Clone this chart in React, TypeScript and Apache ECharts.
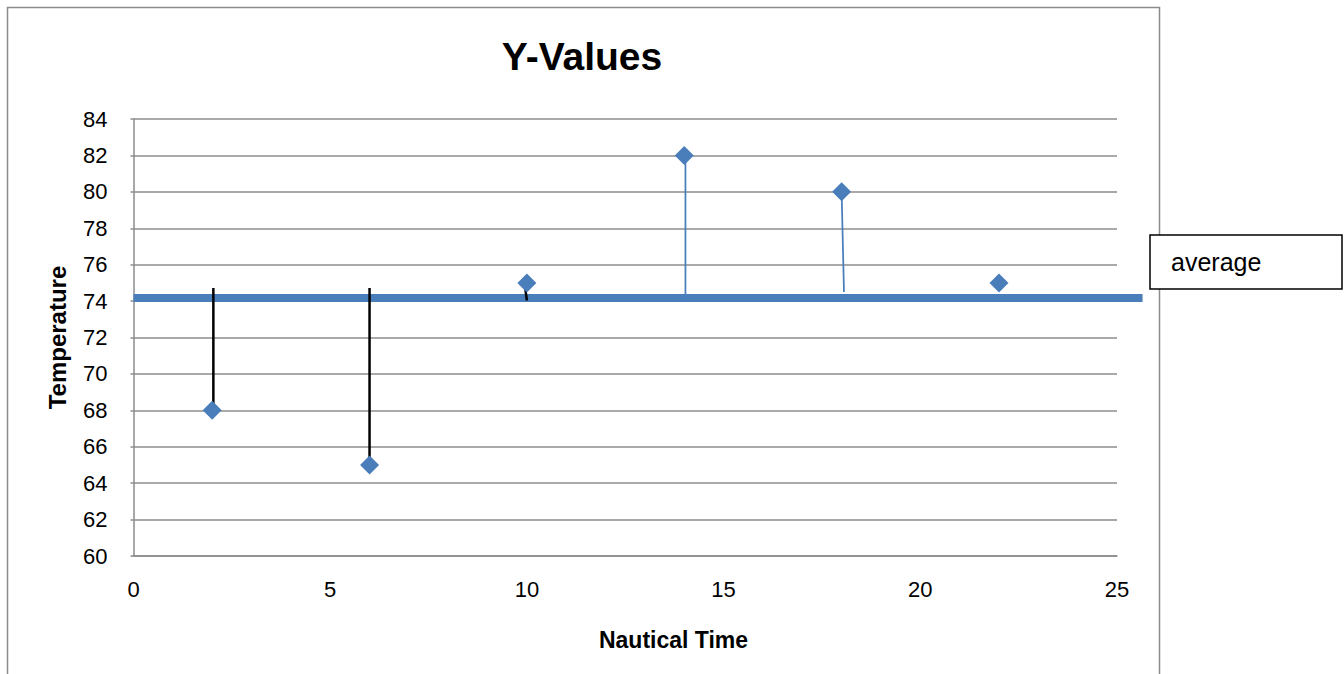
import React, { useEffect, useRef } from "react";
import * as echarts from "echarts";

// Observations: nautical time vs. temperature
const timeValues = [2, 6, 10, 14, 18, 22];
const temperatureValues = [68, 65, 75, 82, 80, 75];

// Hand-drawn deviation lines from the average band to each reading
const blackDeviationLines: [number, number][][] = [
  [[2.03, 74.72], [2.03, 68]],
  [[6, 74.72], [6, 65]],
  [[9.96, 74.67], [10, 74.03]],
];
const blueDeviationLines: [number, number][][] = [
  [[14.03, 82], [14.03, 73.97]],
  [[18, 80], [18.06, 74.5]],
];

// The average band runs slightly past the last x tick
const averageSpan = [0, 25.65];

const xTicks = { min: 0, max: 25, interval: 5 };
const yTicks = { min: 60, max: 84, interval: 2 };

const FONT = "'Liberation Sans', Arial, sans-serif";
const BLUE = "#4a7ebb";
const GRID_GRAY = "#8c8c8c";

// Plot area in pixels
const PLOT_LEFT = 133.5;
const PLOT_TOP = 119;
const PLOT_WIDTH = 983.5;
const PLOT_HEIGHT = 437;

export default function App() {
  const ref = useRef<HTMLDivElement>(null);

  useEffect(() => {
    if (!ref.current) return;
    const chart = echarts.init(ref.current, undefined, { renderer: "svg" });

    const average =
      temperatureValues.reduce((a, b) => a + b, 0) / temperatureValues.length;

    const deviationSeries = [
      ...blackDeviationLines.map((seg) => ({
        type: "line",
        data: seg,
        symbol: "none",
        clip: false,
        z: 4,
        lineStyle: { color: "#000", width: 2.5 },
        silent: true,
      })),
      ...blueDeviationLines.map((seg) => ({
        type: "line",
        data: seg,
        symbol: "none",
        clip: false,
        z: 4,
        lineStyle: { color: BLUE, width: 1.75 },
        silent: true,
      })),
    ];

    // Second, wider coordinate frame with the same scale, so the average band
    // can run past the right end of the plot.
    const pxPerUnit = PLOT_WIDTH / (xTicks.max - xTicks.min);
    const extWidth = (averageSpan[1] - xTicks.min) * pxPerUnit;

    chart.setOption({
      animation: false,
      backgroundColor: "#fff",
      textStyle: { fontFamily: FONT },
      grid: [
        { left: PLOT_LEFT, top: PLOT_TOP, width: PLOT_WIDTH, height: PLOT_HEIGHT, containLabel: false },
        { left: PLOT_LEFT, top: PLOT_TOP, width: extWidth, height: PLOT_HEIGHT, containLabel: false },
      ],
      legend: {
        data: [{ name: "average", icon: "none" }],
        left: 1150,
        top: 235,
        orient: "vertical",
        padding: [14, 0, 14, 16],
        itemWidth: 0,
        itemHeight: 0,
        itemGap: 0,
        borderColor: "#000",
        borderWidth: 1.5,
        borderRadius: 0,
        backgroundColor: "#fff",
        selectedMode: false,
        textStyle: {
          fontFamily: FONT,
          fontSize: 25,
          color: "#000",
          width: 171,
          lineHeight: 26,
        },
      },
      graphic: [
        {
          type: "rect",
          shape: { x: 7.5, y: 7.5, width: 1152, height: 720 },
          style: { fill: "none", stroke: GRID_GRAY, lineWidth: 1.5 },
          silent: true,
          z: -10,
        },
        {
          type: "text",
          x: 582,
          y: 56,
          style: {
            text: "Y-Values",
            fontFamily: FONT,
            fontSize: 39,
            fontWeight: "bold",
            fill: "#000",
            align: "center",
            verticalAlign: "middle",
          },
        },
        {
          type: "text",
          x: 673.5,
          y: 639.5,
          style: {
            text: "Nautical Time",
            fontFamily: FONT,
            fontSize: 23,
            fontWeight: "bold",
            fill: "#000",
            align: "center",
            verticalAlign: "middle",
          },
        },
      ],
      xAxis: [
        {
          type: "value",
          gridIndex: 0,
          min: xTicks.min,
          max: xTicks.max,
          interval: xTicks.interval,
          axisLine: { show: true, lineStyle: { color: GRID_GRAY, width: 1.5 } },
          axisTick: { show: false },
          splitLine: { show: false },
          axisLabel: { fontFamily: FONT, fontSize: 22, color: "#000", margin: 22 },
        },
        {
          type: "value",
          gridIndex: 1,
          show: false,
          min: averageSpan[0],
          max: averageSpan[1],
        },
      ],
      yAxis: [
        {
          type: "value",
          gridIndex: 0,
          min: yTicks.min,
          max: yTicks.max,
          interval: yTicks.interval,
          name: "Temperature",
          nameLocation: "middle",
          nameGap: 64,
          nameTextStyle: {
            fontFamily: FONT,
            fontSize: 24,
            fontWeight: "bold",
            color: "#000",
          },
          axisLine: { show: true, lineStyle: { color: GRID_GRAY, width: 1.5 } },
          axisTick: { show: true, length: 3, lineStyle: { color: GRID_GRAY, width: 1.5 } },
          splitLine: { show: true, lineStyle: { color: GRID_GRAY, width: 1.5 } },
          axisLabel: { fontFamily: FONT, fontSize: 22, color: "#000", margin: 26 },
        },
        {
          type: "value",
          gridIndex: 1,
          show: false,
          min: yTicks.min,
          max: yTicks.max,
          splitLine: { show: false },
        },
      ],
      series: [
        {
          name: "average",
          type: "line",
          xAxisIndex: 1,
          yAxisIndex: 1,
          data: averageSpan.map((x) => [x, average]),
          symbol: "none",
          clip: false,
          z: 3,
          lineStyle: { color: BLUE, width: 8 },
          itemStyle: { color: BLUE },
          silent: true,
        },
        ...deviationSeries,
        {
          name: "Y-Values",
          type: "scatter",
          data: timeValues.map((t, i) => [t, temperatureValues[i]]),
          symbol: "diamond",
          symbolSize: 19,
          z: 6,
          itemStyle: { color: BLUE, opacity: 1 },
        },
      ],
    });

    return () => chart.dispose();
  }, []);

  return (
    <div
      ref={ref}
      style={{ position: "absolute", left: 0, top: 0, width: 1344, height: 674 }}
    />
  );
}
